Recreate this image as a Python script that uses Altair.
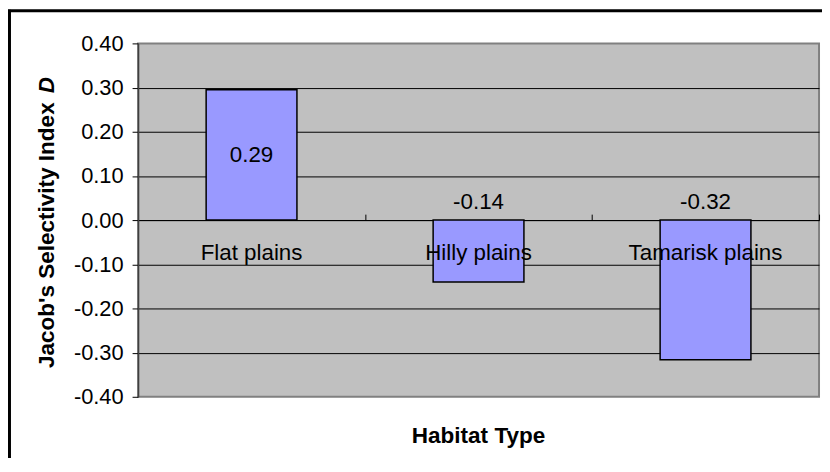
import altair as alt
import pandas as pd

categories = ["Flat plains", "Hilly plains", "Tamarisk plains"]
values = [0.295, -0.14, -0.316]
value_labels = ["0.29", "-0.14", "-0.32"]
y_ticks = [-0.4, -0.3, -0.2, -0.1, 0.0, 0.1, 0.2, 0.3, 0.4]
x_title = "Habitat Type"
y_title = "Jacob's Selectivity Index"
y_title_sym = "D"

W, H = 686, 356
FONT = "Liberation Sans"
FS = 22.5
TFS = 22.7

df = pd.DataFrame({"cat": categories, "val": values, "lab": value_labels})
base = alt.Chart(df)

xscale = alt.Scale(domain=categories, paddingInner=0.6, paddingOuter=0.3)
yscale = alt.Scale(domain=[-0.4, 0.4], nice=False, zero=True)

y_axis = alt.Axis(values=y_ticks, title=None,
                  labelExpr="replace(format(datum.value, '.2f'), '\u2212', '-')",
                  labelFont=FONT, labelFontSize=22, labelColor="black", labelPadding=9,
                  tickSize=6, tickColor="black", tickWidth=1,
                  domainColor="#404040", domainWidth=1.5,
                  grid=True, gridWidth=1,
                  gridColor={"condition": {"test": "abs(datum.value) > 0.35", "value": "transparent"}, "value": "black"})

bars = base.mark_bar(fill="#9999FF", stroke="black", strokeWidth=1.5).encode(
    x=alt.X("cat:N", sort=categories, scale=xscale, axis=None),
    y=alt.Y("val:Q", scale=yscale, axis=y_axis),
)

pos_lab = base.transform_filter("datum.val > 0").transform_calculate(mid="datum.val / 2").mark_text(
    font=FONT, fontSize=FS, baseline="middle", color="black").encode(
    x=alt.X("cat:N", sort=categories), y=alt.Y("mid:Q"), text="lab:N")

neg_lab = base.transform_filter("datum.val < 0").transform_calculate(z="0").mark_text(
    font=FONT, fontSize=FS, baseline="middle", color="black", dy=-18).encode(
    x=alt.X("cat:N", sort=categories), y=alt.Y("z:Q"), text="lab:N")

cat_lab = base.transform_calculate(z="0").mark_text(
    font=FONT, fontSize=FS, baseline="middle", color="black", dy=33).encode(
    x=alt.X("cat:N", sort=categories), y=alt.Y("z:Q"), text="cat:N")

data_layers = alt.layer(bars, pos_lab, neg_lab, cat_lab)

# category axis drawn along the zero line, ticks at category boundaries
x_axis = alt.Axis(title=None, labels=False, domainColor="black", domainWidth=1,
                  tickColor="black", tickSize=6, tickWidth=1, tickBand="extent",
                  offset=-(H / 2), grid=False)
axis_layer = base.mark_point(opacity=0).encode(
    x=alt.X("cat:N", sort=categories,
            scale=alt.Scale(domain=categories, paddingInner=0, paddingOuter=0), axis=x_axis),
    y=alt.Y("val:Q"))

xt = alt.Chart(pd.DataFrame({"t": [x_title]})).mark_text(
    font=FONT, fontSize=TFS, fontWeight="bold", baseline="middle", color="black").encode(
    x=alt.value(W / 2), y=alt.value(H + 40), text="t:N")

yt = alt.Chart(pd.DataFrame({"t": [y_title]})).mark_text(
    font=FONT, fontSize=TFS, fontWeight="bold", baseline="middle", align="left", angle=270,
    color="black").encode(x=alt.value(-92), y=alt.value(327), text="t:N")

yd = alt.Chart(pd.DataFrame({"t": [y_title_sym]})).mark_text(
    font=FONT, fontSize=TFS, fontWeight="bold", fontStyle="italic", baseline="middle",
    align="center", angle=270, color="black").encode(x=alt.value(-92), y=alt.value(42), text="t:N")

frame_l = alt.Chart(pd.DataFrame({"a": [0]})).mark_rule(color="black", strokeWidth=3).encode(
    x=alt.value(-129.5), y=alt.value(-34), y2=alt.value(H + 70))
frame_t = alt.Chart(pd.DataFrame({"a": [0]})).mark_rule(color="black", strokeWidth=3).encode(
    x=alt.value(-131), x2=alt.value(W + 10), y=alt.value(-33))

chart = alt.layer(data_layers, axis_layer, xt, yt, yd, frame_l, frame_t).resolve_scale(
    x="independent"
).properties(
    width=W, height=H,
    autosize=alt.AutoSizeParams(type="none"),
    padding={"left": 131, "top": 34, "right": 3, "bottom": 60},
    background="white",
).configure_view(fill="#C0C0C0", stroke="#808080", strokeWidth=2)

chart.save("out.html", embed_options={"renderer": "svg", "actions": False})
